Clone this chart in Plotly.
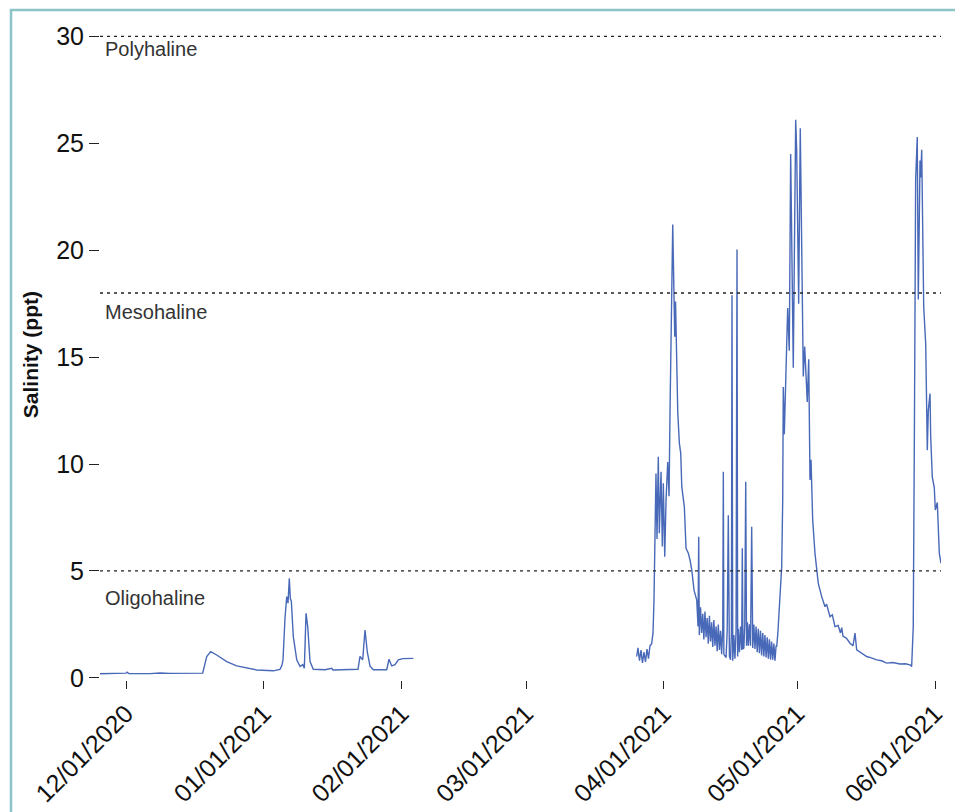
import pandas as pd
import plotly.graph_objects as go

# ---- data (days since 2020-12-01, salinity ppt) ----
seg1_day = [-5.85, 0.0, 0.22, 0.67, 5.40, 7.65, 9.90, 13.27, 17.25, 18.16, 19.05, 20.40,
            22.65, 24.90, 27.15, 29.40, 33.14, 34.64, 35.09, 35.32, 35.77, 36.16, 36.45,
            36.61, 36.74, 36.97, 37.19, 37.64, 38.41, 39.15, 39.76, 40.12, 40.50, 40.88,
            41.40, 42.14, 44.77, 46.28, 46.57, 52.19, 52.64, 53.25, 53.77, 54.29, 54.90,
            55.64, 58.65, 59.17, 59.78, 60.52, 61.26, 62.25, 64.64]
seg1_sal = [0.19, 0.22, 0.27, 0.20, 0.20, 0.23, 0.21, 0.20, 0.22, 1.00, 1.23, 1.07,
            0.76, 0.56, 0.45, 0.37, 0.33, 0.40, 0.60, 0.84, 2.80, 3.80, 3.49,
            4.40, 4.66, 3.70, 3.60, 1.93, 0.84, 0.53, 0.62, 0.45, 3.02, 2.40,
            0.76, 0.40, 0.38, 0.45, 0.37, 0.40, 1.00, 0.85, 2.24, 1.20, 0.55,
            0.38, 0.38, 0.87, 0.56, 0.62, 0.84, 0.90, 0.91]

seg2_day = [114.89, 115.18, 115.52, 115.86, 116.19, 116.53, 116.87, 117.21, 117.54, 117.88,
            118.26, 118.56, 118.78, 119.23, 119.46, 119.75, 119.98, 120.36, 120.66, 120.88,
            121.20, 121.49, 121.87, 122.17, 122.39, 122.73, 123.00, 123.29, 123.45, 123.63,
            124.04, 124.13, 124.49, 124.80, 125.03, 125.39, 125.61, 125.99, 126.51, 126.90,
            127.28, 127.79, 128.40, 128.69, 128.84, 128.98,
            129.0, 129.25, 129.5, 129.75, 130.0, 130.25, 130.5, 130.75, 131.0, 131.25,
            131.5, 131.75, 132.0, 132.25, 132.5, 132.75, 133.0, 133.25, 133.5, 133.75,
            134.0, 134.25, 134.38, 134.5, 135.0, 135.25, 135.5, 135.75, 136.0, 136.2,
            136.33, 136.5, 136.75, 137.0, 137.25, 137.46, 137.6, 137.75, 138.0, 138.25,
            138.5, 138.65, 138.8, 139.0, 139.2, 139.42, 139.6, 139.8, 140.0, 140.25,
            140.5, 140.76, 141.0, 141.25, 141.5, 141.75, 142.0, 142.25, 142.5, 142.75,
            143.0, 143.25, 143.5, 143.75, 144.0, 144.25, 144.5, 144.75, 145.0, 145.25,
            145.5, 145.75, 146.0, 146.25, 146.4,
            146.68, 147.13, 147.51, 147.74, 147.87, 148.10, 148.48, 148.86, 149.22, 149.53,
            150.12, 150.66, 150.88, 151.33, 151.69, 152.23, 152.37, 152.68, 152.98, 153.27,
            153.59, 153.72, 153.88, 154.11, 154.48, 155.00, 155.38, 155.74, 156.51, 157.25,
            157.6, 158.38, 158.9, 159.50, 160.2, 160.74, 161.01, 161.30, 162.1, 162.88,
            163.55, 164.00, 164.38, 165.13, 166.63, 167.5, 168.88, 170.0, 171.13, 172.5,
            174.12, 175.3, 176.37, 176.75, 177.11, 177.38, 177.65, 178.01, 178.24, 178.63,
            178.79, 179.01, 179.24, 179.46, 179.91, 180.27, 180.49, 180.88, 181.03, 181.39,
            181.84, 182.07, 182.52, 182.97, 183.35]
seg2_sal = [1.00, 1.40, 0.80, 1.30, 0.70, 1.20, 0.75, 1.35, 0.90, 1.50,
            1.60, 2.10, 3.64, 9.56, 6.50, 10.34, 6.76, 9.64, 6.14, 9.10,
            5.67, 8.30, 10.10, 8.50, 12.50, 18.00, 21.20, 17.80, 15.95, 17.60,
            13.40, 12.40, 10.97, 10.50, 8.94, 8.30, 8.00, 6.06, 5.83, 5.50,
            5.05, 4.10, 3.64, 2.40, 6.60, 2.00,
            2.0, 3.3, 2.1, 3.0, 1.8, 3.1, 1.9, 2.8, 1.6, 2.9,
            1.7, 2.6, 1.45, 2.7, 1.5, 2.4, 1.25, 2.5, 1.3, 2.2,
            1.1, 2.3, 9.64, 1.1, 0.95, 2.2, 7.6, 1.0, 0.85, 2.1,
            17.9, 0.8, 2.0, 0.9, 2.2, 20.03, 1.0, 2.3, 1.2, 2.4,
            1.3, 6.06, 1.35, 1.4, 2.5, 9.17, 1.5, 2.6, 1.5, 2.5,
            1.5, 7.07, 1.4, 2.5, 1.35, 2.4, 1.2, 2.3, 1.15, 2.2,
            1.05, 2.1, 1.0, 2.0, 0.95, 1.9, 0.9, 1.8, 0.85, 1.7,
            0.85, 1.6, 0.8, 1.5, 1.46,
            2.20, 3.64, 5.20, 8.30, 13.60, 11.40, 14.10, 17.30, 15.30, 24.50,
            14.50, 26.10, 24.70, 17.50, 25.70, 16.10, 14.10, 15.50, 13.80, 12.90,
            14.90, 11.60, 9.25, 10.20, 7.40, 5.83, 5.05, 4.42, 3.80, 3.33,
            3.45, 2.86, 2.95, 2.40, 2.45, 2.10, 2.35, 1.95, 1.85, 1.62,
            1.50, 2.09, 1.31, 1.20, 1.00, 0.95, 0.84, 0.80, 0.69, 0.72,
            0.65, 0.66, 0.61, 0.53, 2.40, 12.0, 23.30, 25.30, 17.70, 24.20,
            23.40, 24.70, 19.40, 17.35, 15.60, 10.65, 12.50, 13.30, 11.30, 9.40,
            8.90, 7.85, 8.20, 5.83, 5.36]

zone_levels = [30, 18, 5]
zone_names = ["Polyhaline", "Mesohaline", "Oligohaline"]
zone_label_y = [29.4, 17.1, 3.75]

y_ticks = [0, 5, 10, 15, 20, 25, 30]
x_ticks = ["2020-12-01", "2021-01-01", "2021-02-01", "2021-03-01",
           "2021-04-01", "2021-05-01", "2021-06-01"]

# ---- build series ----
origin = pd.Timestamp("2020-12-01")
days = seg1_day + [None] + seg2_day
sal = seg1_sal + [None] + seg2_sal
x = [origin + pd.to_timedelta(d, unit="D") if d is not None else None for d in days]

FONT = "Liberation Sans, Arial, sans-serif"

fig = go.Figure()
fig.add_trace(go.Scatter(x=x, y=sal, mode="lines", connectgaps=False,
                         line=dict(color="#4868b8", width=1.4), showlegend=False))

for lvl in zone_levels:
    fig.add_shape(type="line", xref="paper", x0=0, x1=1, yref="y", y0=lvl, y1=lvl,
                  line=dict(color="#222222", width=1.3, dash="3px,4px"))
for name, yy in zip(zone_names, zone_label_y):
    fig.add_annotation(x=0.003, xref="paper", y=yy, yref="y", text=name, showarrow=False,
                       xanchor="left", yanchor="middle",
                       font=dict(family=FONT, size=20, color="#333333"))

# y-axis title
fig.add_annotation(x=-0.083, xref="paper", y=0.5, yref="paper", text="<b>Salinity (ppt)</b>",
                   textangle=-90, showarrow=False, xanchor="center", yanchor="middle",
                   font=dict(family=FONT, size=21, color="#111111"))

# outer border
fig.add_shape(type="rect", xref="paper", yref="paper", x0=-0.1058, x1=1.0214,
              y0=-0.25, y1=1.0308, line=dict(color="#8cc4c8", width=2.5), layer="above")

tick_text = [pd.Timestamp(t).strftime("%m/%d/%Y") for t in x_ticks]
fig.update_xaxes(range=["2020-11-25 03:36", "2021-06-02 08:24"], tickvals=x_ticks,
                 ticktext=tick_text, tickangle=-45, ticks="outside", ticklen=8,
                 tickcolor="#222222", showgrid=False, zeroline=False, showline=False,
                 automargin=False,
                 tickfont=dict(family=FONT, size=25, color="#111111"))
fig.update_yaxes(range=[-0.1, 30.3], tickvals=y_ticks, ticks="outside", ticklen=10,
                 tickcolor="#222222", showgrid=False, zeroline=False, showline=False,
                 automargin=False,
                 tickfont=dict(family=FONT, size=25, color="#111111"))

# page body adds an 8px offset; figure sized so it fits the 963x812 window
fig.update_layout(width=955, height=804, autosize=False,
                  margin=dict(l=92, r=22, t=22, b=132),
                  paper_bgcolor="white", plot_bgcolor="white")

fig.write_html("out.html")
